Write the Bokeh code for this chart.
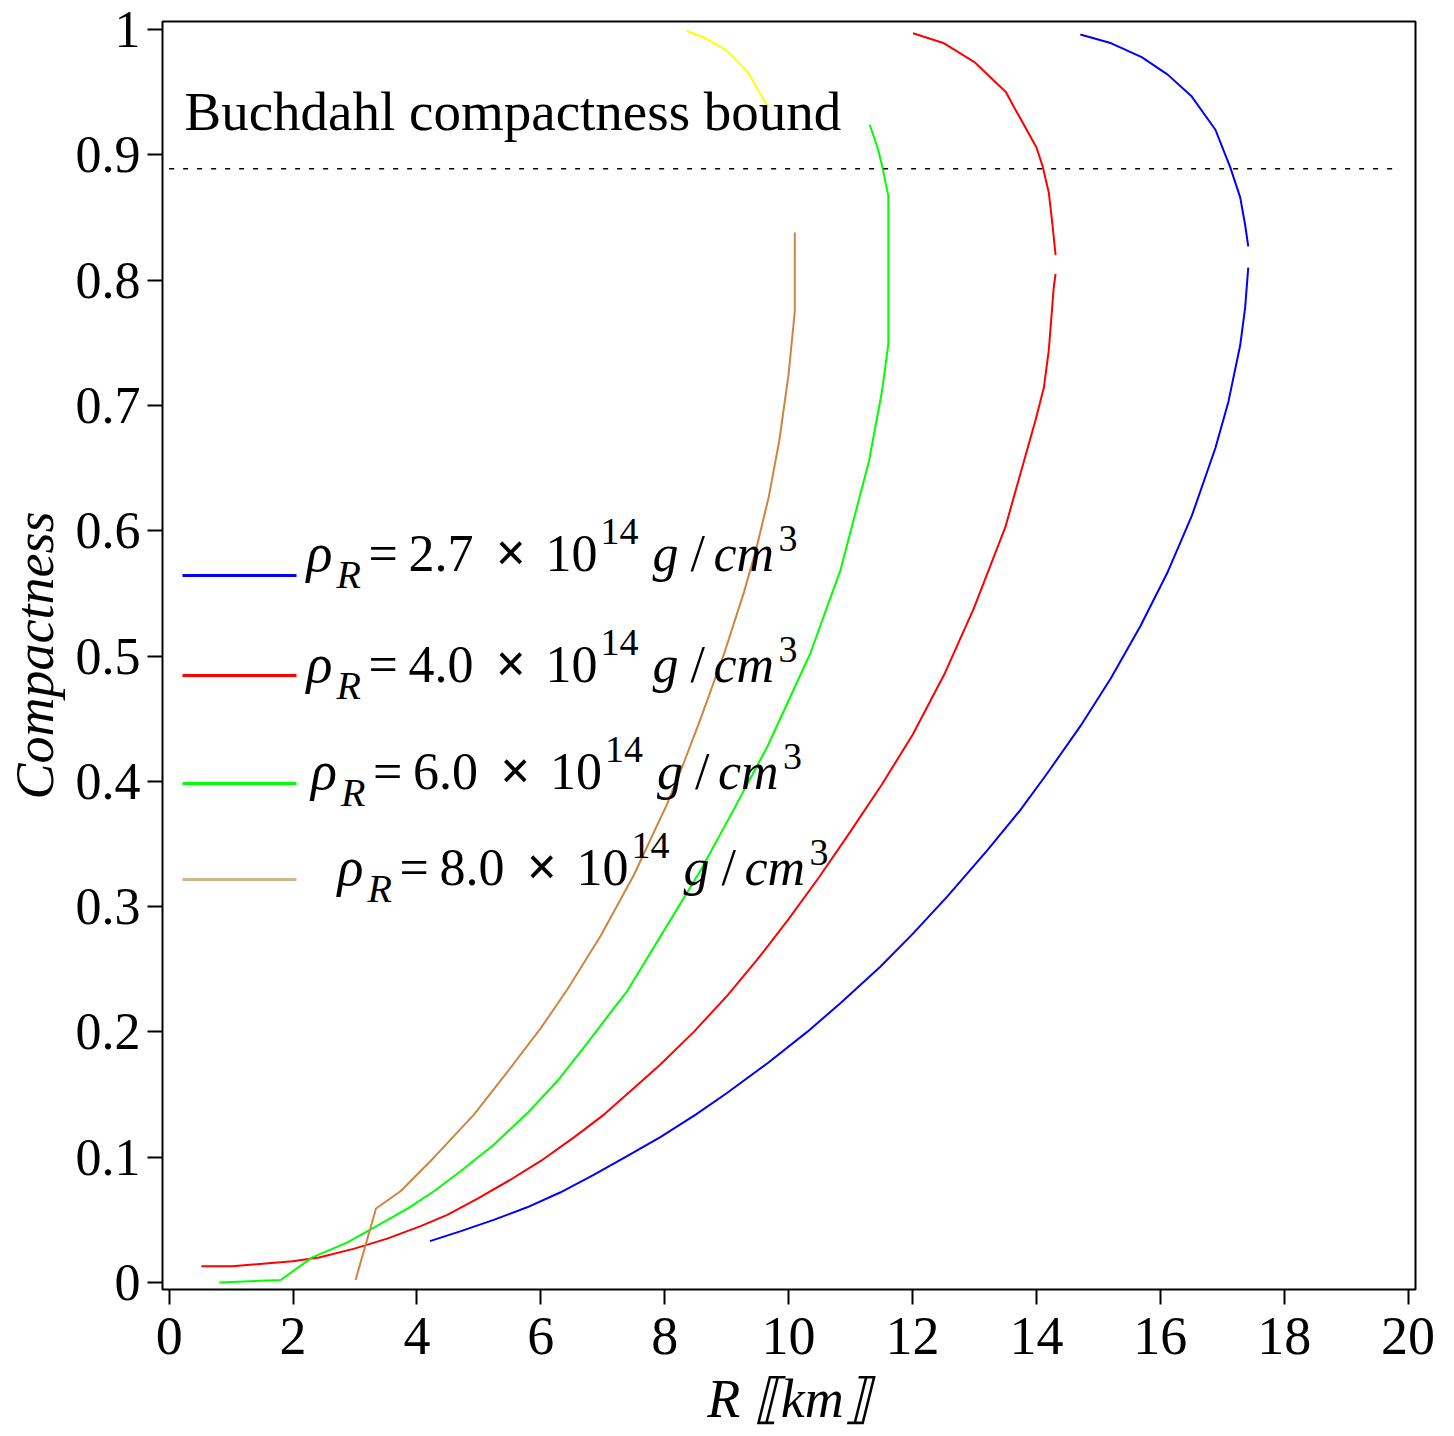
from bokeh.plotting import figure
from bokeh.models import Range1d, FixedTicker, Label
from bokeh.embed import file_html
from bokeh.resources import INLINE

# ---------------- data ----------------
blue_lower_r = [4.21, 4.71, 5.24, 5.78, 6.32, 6.86, 7.40, 7.93, 8.50, 9.00, 9.66, 10.30, 10.84, 11.48, 12.00,
                12.56, 13.21, 13.74, 14.17, 14.71, 15.20, 15.68, 16.11, 16.51, 16.89, 17.10, 17.29, 17.37, 17.42]
blue_lower_c = [0.033, 0.041, 0.050, 0.060, 0.072, 0.086, 0.101, 0.116, 0.134, 0.151, 0.175, 0.200, 0.223, 0.252,
                0.278, 0.308, 0.345, 0.377, 0.406, 0.444, 0.482, 0.524, 0.566, 0.612, 0.666, 0.703, 0.748, 0.778,
                0.810]
blue_upper_r = [17.42, 17.37, 17.29, 17.13, 16.89, 16.50, 16.12, 15.70, 15.21, 14.71]
blue_upper_c = [0.827, 0.844, 0.866, 0.890, 0.920, 0.947, 0.964, 0.978, 0.989, 0.996]

red_lower_r = [0.52, 1.02, 1.99, 2.42, 2.99, 3.52, 4.06, 4.49, 4.98, 5.51, 6.00, 6.54, 7.02, 7.50, 7.93, 8.47,
               9.01, 9.50, 10.0, 10.5, 11.0, 11.5, 12.0, 12.51, 12.99, 13.50, 13.99, 14.12, 14.20, 14.28, 14.31]
red_lower_c = [0.013, 0.013, 0.017, 0.020, 0.027, 0.035, 0.045, 0.054, 0.067, 0.082, 0.097, 0.116, 0.134, 0.155,
               0.174, 0.200, 0.229, 0.258, 0.290, 0.324, 0.360, 0.397, 0.437, 0.485, 0.538, 0.603, 0.689, 0.714,
               0.744, 0.794, 0.805]
red_upper_r = [14.31, 14.26, 14.20, 14.10, 14.00, 13.64, 13.51, 13.00, 12.51, 12.01]
red_upper_c = [0.820, 0.844, 0.870, 0.891, 0.906, 0.938, 0.950, 0.974, 0.989, 0.997]

green_r = [0.81, 1.80, 2.31, 2.88, 3.31, 3.85, 4.28, 4.71, 5.24, 5.78, 6.27, 6.75, 7.18, 7.40, 8.04, 8.58, 9.12,
           9.66, 10.35, 10.84, 11.30, 11.51, 11.61, 11.61, 11.52, 11.44, 11.31]
green_c = [0.000, 0.002, 0.020, 0.032, 0.044, 0.059, 0.073, 0.089, 0.110, 0.135, 0.161, 0.191, 0.219, 0.233,
           0.285, 0.329, 0.378, 0.428, 0.502, 0.569, 0.656, 0.712, 0.749, 0.867, 0.889, 0.905, 0.924]

brown_r = [3.01, 3.34, 3.74, 4.28, 4.92, 5.46, 6.00, 6.43, 6.97, 7.50, 8.04, 8.31, 8.58, 8.96, 9.28, 9.47, 9.68,
           9.85, 10.00, 10.10, 10.10]
brown_c = [0.002, 0.059, 0.073, 0.100, 0.134, 0.168, 0.203, 0.234, 0.277, 0.325, 0.382, 0.415, 0.450, 0.502,
           0.551, 0.584, 0.627, 0.672, 0.725, 0.775, 0.838]
yellow_r = [9.67, 9.34, 9.01, 8.66, 8.35]
yellow_c = [0.938, 0.966, 0.983, 0.993, 0.999]

buchdahl_c = 8.0 / 9.0
buchdahl_r = [0.0, 19.8]

x_ticks = [0, 2, 4, 6, 8, 10, 12, 14, 16, 18, 20]
y_ticks = [0, 0.1, 0.2, 0.3, 0.4, 0.5, 0.6, 0.7, 0.8, 0.9, 1]
y_tick_labels = ["0", "0.1", "0.2", "0.3", "0.4", "0.5", "0.6", "0.7", "0.8", "0.9", "1"]

legend_values = ["2.7", "4.0", "6.0", "8.0"]
legend_colors = ["#0000ff", "#ff0000", "#00ff00", "#d2b48c"]

# ---------------- figure ----------------
W, H = 1454, 1436
BL, BR, BT, BB = 162, 39, 21, 147
X0, X1 = -0.107, 20.12
Y0, Y1 = -0.0056, 1.0064
FW, FH = W - BL - BR, H - BT - BB

def X(px):
    return X0 + (px - BL) / FW * (X1 - X0)

def Y(py):
    return Y1 - (py - BT) / FH * (Y1 - Y0)

FONT = "Liberation Serif"

p = figure(width=W, height=H, x_range=Range1d(X0, X1), y_range=Range1d(Y0, Y1),
           output_backend="svg", toolbar_location=None,
           min_border_left=BL, min_border_right=BR, min_border_top=BT, min_border_bottom=BB)
p.grid.visible = False
p.outline_line_color = "black"
p.outline_line_width = 2
p.background_fill_color = "white"
p.border_fill_color = "white"

for ax in (p.xaxis[0], p.yaxis[0]):
    ax.axis_line_color = None
    ax.major_tick_line_color = "black"
    ax.major_tick_line_width = 2
    ax.major_tick_out = 15
    ax.major_tick_in = 0
    ax.minor_tick_line_color = None
    ax.major_label_text_font = FONT
    ax.major_label_text_color = "black"
    ax.axis_label_text_font = FONT
    ax.axis_label_text_font_size = "54px"
    ax.axis_label_text_font_style = "italic"
    ax.axis_label_text_color = "black"

p.xaxis.major_label_text_font_size = "54px"
p.yaxis.major_label_text_font_size = "52px"
p.xaxis.ticker = FixedTicker(ticks=x_ticks)
p.yaxis.ticker = FixedTicker(ticks=y_ticks)
p.yaxis.major_label_overrides = dict(zip(y_ticks, y_tick_labels))
p.xaxis.major_label_standoff = 13
p.xaxis.axis_label = "R \u27e6km\u27e7"
p.xaxis.axis_label_standoff = 12
p.yaxis.major_label_standoff = 7
p.yaxis.axis_label = "Compactness"
p.yaxis.axis_label_standoff = 8

LW = 2
p.line(blue_lower_r, blue_lower_c, line_color="#0000ff", line_width=LW)
p.line(blue_upper_r, blue_upper_c, line_color="#0000ff", line_width=LW)
p.line(red_lower_r, red_lower_c, line_color="#ff0000", line_width=LW)
p.line(red_upper_r, red_upper_c, line_color="#ff0000", line_width=LW)
p.line(green_r, green_c, line_color="#00ff00", line_width=LW)
p.line(brown_r, brown_c, line_color="#cd853f", line_width=LW)
p.line(yellow_r, yellow_c, line_color="#ffff00", line_width=LW)
p.line(buchdahl_r, [buchdahl_c, buchdahl_c], line_color="black", line_width=1.5, line_dash="5 9")

BASE_FIX = 0.37  # empirical shift so that the alphabetic baseline lands where wanted


def lab(px, py, text, size, style="normal"):
    p.add_layout(Label(x=X(px), y=Y(py - BASE_FIX * size), text=text, text_font=FONT,
                       text_font_size=f"{size}px", text_font_style=style, text_color="black",
                       text_baseline="alphabetic"))


lab(184, 131, "Buchdahl compactness bound", 55)

# ---------------- hand-made legend ----------------
row_line_y = [575, 675, 783, 879]
row_base_y = [572, 683, 790, 886]
row_dx = [0, 0, 4.5, 31]

for val, col, ly, by, dx in zip(legend_values, legend_colors, row_line_y, row_base_y, row_dx):
    p.line([X(182), X(296)], [Y(ly), Y(ly)], line_color=col, line_width=3)
    lab(306 + dx, by, "\u03c1", 54, "italic")
    lab(336 + dx, by + 17, "R", 40, "italic")
    lab(368 + dx, by, "=", 52)
    lab(408 + dx, by, val, 52)
    lab(495 + dx, by, "\u00d7", 54, "bold")
    lab(545 + dx, by, "10", 52)
    lab(600 + dx, by - 27, "14", 38)
    lab(652 + dx, by, "g", 52, "italic")
    lab(690 + dx, by, "/", 52)
    lab(713 + dx, by, "cm", 52, "italic")
    lab(778 + dx, by - 20, "3", 38)

open("out.html", "w").write(file_html(p, INLINE))
